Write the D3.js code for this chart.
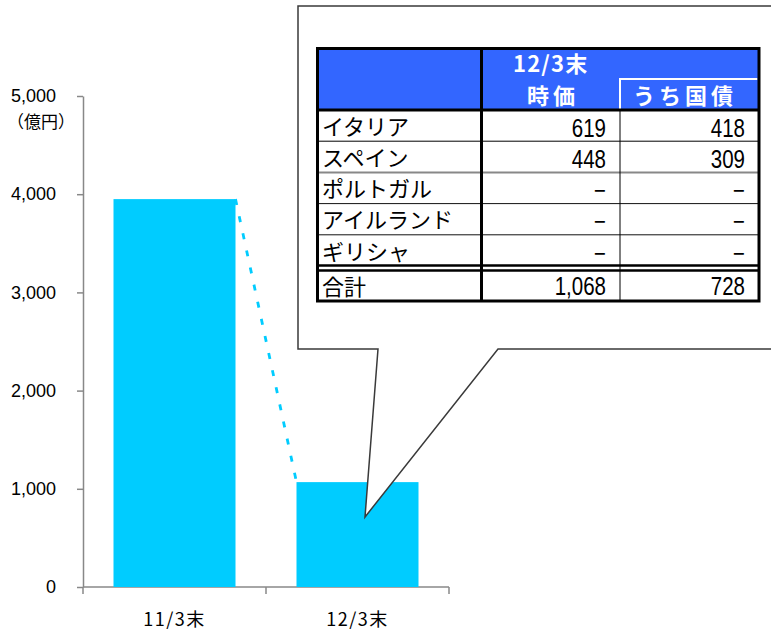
<!DOCTYPE html>
<html>
<head>
<meta charset="utf-8">
<script src="https://cdn.jsdelivr.net/npm/d3@7"></script>
<style>
  body { margin: 0; background: #fff; }
  svg { display: block; }
</style>
</head>
<body>
<svg id="chart" width="771" height="635"></svg>
<script>
// Holdings at each period end (100 million yen)
const categories = ["11/3末", "12/3末"];
const holdings = [3950, 1068];
const yTickValues = [0, 1000, 2000, 3000, 4000, 5000];
const unitLabel = "（億円）";

// Breakdown table for the latest period
const tableTitle = "12/3末";
const columnHeads = ["時価", "うち国債"];
const countries = ["イタリア", "スペイン", "ポルトガル", "アイルランド", "ギリシャ"];
const marketValue = [619, 448, null, null, null];
const govBondValue = [418, 309, null, null, null];
const totalLabel = "合計";
const totalMarket = 1068;
const totalGovBond = 728;

const JP = "'Noto Sans CJK JP', 'Noto Sans', sans-serif";
const NUM = "'Liberation Sans', Arial, sans-serif";
const BAR = "#00ccff";
const HEAD = "#3366ff";
const AXIS = "#888888";

const svg = d3.select("#chart");

const y = d3.scaleLinear().domain([0, 5000]).range([587, 96]);
const x = d3.scaleBand().domain(categories).range([83, 449])
  .paddingInner(1 / 3).paddingOuter(1 / 6);

// ---- y axis ----
const gy = svg.append("g").attr("transform", "translate(83,0)")
  .call(d3.axisLeft(y).tickValues(yTickValues).tickFormat(d3.format(","))
    .tickSize(6).tickSizeOuter(0).tickPadding(21));
gy.selectAll("path, line").attr("stroke", AXIS).attr("stroke-width", 1.5);
gy.selectAll("text").attr("font-family", NUM).attr("font-size", 18).attr("fill", "#000");

svg.append("text").attr("x", 7).attr("y", 128)
  .attr("font-family", JP).attr("font-size", 17).text(unitLabel);

// ---- x axis: baseline, category boundary ticks, labels ----
const bounds = d3.range(categories.length + 1).map(i => x.range()[0] + i * x.step());
svg.append("line").attr("x1", bounds[0]).attr("x2", bounds[bounds.length - 1])
  .attr("y1", y(0)).attr("y2", y(0)).attr("stroke", AXIS).attr("stroke-width", 1.5);
svg.selectAll(".xtick").data(bounds).join("line").attr("class", "xtick")
  .attr("x1", d => d).attr("x2", d => d).attr("y1", y(0)).attr("y2", y(0) + 7)
  .attr("stroke", AXIS).attr("stroke-width", 1.5);
svg.selectAll(".xlab").data(categories).join("text").attr("class", "xlab")
  .attr("x", d => x(d) + x.bandwidth() / 2).attr("y", y(0) + 39)
  .attr("text-anchor", "middle").attr("font-family", JP).attr("font-size", 18)
  .attr("letter-spacing", 1.5).text(d => d);

// ---- bars ----
svg.selectAll(".bar").data(categories).join("rect").attr("class", "bar")
  .attr("x", d => x(d)).attr("width", x.bandwidth())
  .attr("y", (d, i) => y(holdings[i])).attr("height", (d, i) => y(0) - y(holdings[i]))
  .attr("fill", BAR);

// dotted connector between bar tops
svg.append("line")
  .attr("x1", x(categories[0]) + x.bandwidth()).attr("y1", y(holdings[0]))
  .attr("x2", x(categories[1])).attr("y2", y(holdings[1]))
  .attr("stroke", BAR).attr("stroke-width", 2.8).attr("stroke-dasharray", "6 11.5");

// ---- callout balloon ----
svg.append("path")
  .attr("d", "M298,6 H790 V349 H498 L365,517 L378,349 H298 Z")
  .attr("fill", "#fff").attr("stroke", "#3a3a3a").attr("stroke-width", 1.5)
  .attr("stroke-linejoin", "miter");

// ---- table ----
const tL = 317.5, tR = 759, tT = 48.5, tB = 301;
const c1 = 481.5, c2 = 620, headBottom = 110;
const rows = d3.scaleBand().domain(countries).range([headBottom, 266]);
const tbl = svg.append("g");

tbl.append("rect").attr("x", tL).attr("y", tT).attr("width", tR - tL)
  .attr("height", headBottom - tT).attr("fill", HEAD);

// header texts
function headText(x0, yb, s, spacing) {
  tbl.append("text").attr("x", x0).attr("y", yb).attr("font-family", JP)
    .attr("font-weight", "bold").attr("font-size", 22).attr("letter-spacing", spacing)
    .attr("fill", "#fff").text(s);
}
headText(513, 71.5, tableTitle, 1.2);
headText(527, 104, columnHeads[0], 4);
headText(633, 104, columnHeads[1], 4);

// white sub-header bracket
tbl.append("path").attr("d", `M${c2},${headBottom} V79 H${tR - 1.5}`)
  .attr("fill", "none").attr("stroke", "#fff").attr("stroke-width", 2);

// row separators
const sepStyle = [["#000", 1], ["#888", 2], ["#111", 1], ["#111", 1]];
countries.slice(0, -1).forEach((c, i) => {
  const yy = rows(c) + rows.bandwidth();
  tbl.append("line").attr("x1", tL).attr("x2", tR).attr("y1", yy).attr("y2", yy)
    .attr("stroke", sepStyle[i][0]).attr("stroke-width", sepStyle[i][1]);
});
// double rule above the total row
[265.5, 270.5].forEach(yy => {
  tbl.append("line").attr("x1", tL).attr("x2", tR).attr("y1", yy).attr("y2", yy)
    .attr("stroke", "#000").attr("stroke-width", 2.5);
});
// header rule and column dividers
tbl.append("line").attr("x1", tL).attr("x2", tR).attr("y1", headBottom).attr("y2", headBottom)
  .attr("stroke", "#000").attr("stroke-width", 3);
tbl.append("line").attr("x1", c2).attr("x2", c2).attr("y1", headBottom).attr("y2", tB)
  .attr("stroke", "#000").attr("stroke-width", 1);
tbl.append("line").attr("x1", c1).attr("x2", c1).attr("y1", tT).attr("y2", tB)
  .attr("stroke", "#000").attr("stroke-width", 3);
tbl.append("rect").attr("x", tL).attr("y", tT).attr("width", tR - tL).attr("height", tB - tT)
  .attr("fill", "none").attr("stroke", "#000").attr("stroke-width", 3);

const fmt = d => d == null ? "−" : d3.format(",")(d);
function numText(xr, yb, v) {
  tbl.append("text").attr("transform", `translate(${xr},${yb}) scale(0.82,1)`)
    .attr("text-anchor", "end").attr("font-family", NUM).attr("font-size", 25)
    .attr("fill", "#000").text(fmt(v));
}
function labelText(yb, s) {
  tbl.append("text").attr("x", 322).attr("y", yb).attr("font-family", JP)
    .attr("font-size", 22).attr("fill", "#000").text(s);
}

countries.forEach((c, i) => {
  const bottom = rows(c) + rows.bandwidth();
  labelText(bottom - 6.5, c);
  numText(606, bottom - 4.5, marketValue[i]);
  numText(745, bottom - 4.5, govBondValue[i]);
});
labelText(tB - 6, totalLabel);
numText(606, tB - 6, totalMarket);
numText(745, tB - 6, totalGovBond);
</script>
</body>
</html>
